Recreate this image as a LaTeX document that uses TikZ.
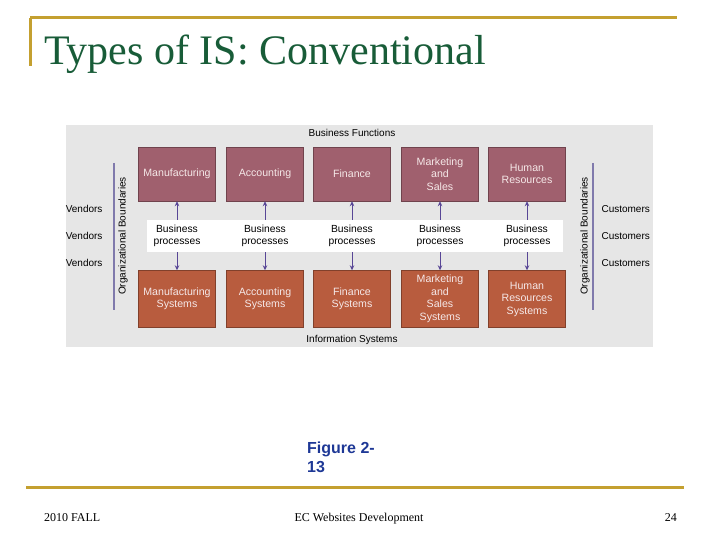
\documentclass[tikz,border=0pt]{standalone}
\usepackage{fontspec}
\setmainfont{Liberation Serif}
\setsansfont{Liberation Sans}
\usepackage{xcolor}
\usetikzlibrary{arrows.meta}
\definecolor{slidegold}{RGB}{196,160,48}
\definecolor{titlegreen}{RGB}{24,92,56}
\definecolor{panelgray}{RGB}{230,230,230}
\definecolor{funcmauve}{RGB}{160,96,110}
\definecolor{sysrust}{RGB}{184,92,62}
\definecolor{arrowpurple}{RGB}{88,70,150}
\definecolor{boundline}{RGB}{128,122,172}
\definecolor{figblue}{RGB}{30,56,150}
\definecolor{boxtext}{RGB}{245,232,232}

\tikzset{
  funcbox/.style={fill=funcmauve, draw=funcmauve!70!black, minimum width=77pt, minimum height=54pt,
    align=center, text=boxtext, font=\sffamily\fontsize{10.6}{12.5}\selectfont},
  sysbox/.style={fill=sysrust, draw=sysrust!70!black, minimum width=77pt, minimum height=57pt,
    align=center, text=boxtext, font=\sffamily\fontsize{10.6}{12.5}\selectfont},
  procnode/.style={minimum height=32pt, inner sep=0pt, align=center, font=\sffamily\fontsize{10.3}{12}\selectfont},
  smalllabel/.style={font=\sffamily\fontsize{10}{11}\selectfont},
  flowarrow/.style={arrowpurple, line width=0.9pt, -{Stealth[length=5pt,width=4.5pt]}},
  boundary/.style={boundline, line width=1.2pt}
}

\begin{document}
\begin{tikzpicture}[x=1pt, y=-1pt]
\useasboundingbox (0,0) rectangle (720,540);

% slide frame
\draw[slidegold, line width=3pt] (30,18) -- (677,18);
\draw[slidegold, line width=3pt] (30,18) -- (30,66);
\node[anchor=base west, inner sep=0pt, text=titlegreen, font=\fontsize{42}{44}\selectfont] (title) at (44,65) {Types of IS: Conventional};

% figure panel
\fill[panelgray] (66,125) rectangle (653,347);
\fill[white] (147,220) rectangle (563,252);
\node[smalllabel] (bf) at (352,133) {Business Functions};
\node[smalllabel] (is) at (352,340) {Information Systems};

% business functions
\node[funcbox] (manuf) at (177,174) {Manufacturing};
\node[funcbox] (acct) at (265,174) {Accounting};
\node[funcbox] (fin) at (352,174) {Finance};
\node[funcbox] (mkt) at (440,174) {Marketing\\and\\Sales};
\node[funcbox] (hr) at (527,174) {Human\\Resources};

% business processes
\node[procnode] (bp1) at (177,236) {Business\\processes};
\node[procnode] (bp2) at (265,236) {Business\\processes};
\node[procnode] (bp3) at (352,236) {Business\\processes};
\node[procnode] (bp4) at (440,236) {Business\\processes};
\node[procnode] (bp5) at (527,236) {Business\\processes};

% information systems
\node[sysbox] (manufsys) at (177,299) {Manufacturing\\Systems};
\node[sysbox] (acctsys) at (265,299) {Accounting\\Systems};
\node[sysbox] (finsys) at (352,299) {Finance\\Systems};
\node[sysbox] (mktsys) at (440,299) {Marketing\\and\\Sales\\Systems};
\node[sysbox] (hrsys) at (527,299) {Human\\Resources\\Systems};

\foreach \f/\s/\p in {manuf/manufsys/bp1, acct/acctsys/bp2, fin/finsys/bp3, mkt/mktsys/bp4, hr/hrsys/bp5} {
  \draw[flowarrow] (\p.north) -- (\f.south);
  \draw[flowarrow] (\p.south) -- (\s.north);
}

% organizational boundaries
\coordinate (lbtop) at (114,163);
\coordinate (lbbot) at (114,310);
\coordinate (rbtop) at (593,163);
\coordinate (rbbot) at (593,310);
\draw[boundary] (lbtop) -- (lbbot);
\draw[boundary] (rbtop) -- (rbbot);
\node[smalllabel, rotate=90] (lbound) at (123,236) {Organizational Boundaries};
\node[smalllabel, rotate=90] (rbound) at (585,236) {Organizational Boundaries};

\foreach \y/\n in {209/1, 236/2, 263/3} {
  \node[smalllabel, anchor=east] (vend\n) at (106,\y) {Vendors};
  \node[smalllabel, anchor=west] (cust\n) at (598,\y) {Customers};
}

% caption and footer
\node[anchor=north west, inner sep=0pt, align=left, text=figblue, font=\sffamily\bfseries\fontsize{16}{19}\selectfont] (fig) at (307,442) {Figure 2-\\13};
\draw[slidegold, line width=3pt] (26,487) -- (684,487);
\node[anchor=base west, inner sep=0pt, font=\fontsize{12}{14}\selectfont] (term) at (44,521) {2010 FALL};
\node[anchor=base, inner sep=0pt, font=\fontsize{12}{14}\selectfont] (course) at (359,521) {EC Websites Development};
\node[anchor=base east, inner sep=0pt, font=\fontsize{12}{14}\selectfont] (page) at (677,521) {24};
\end{tikzpicture}
\end{document}
